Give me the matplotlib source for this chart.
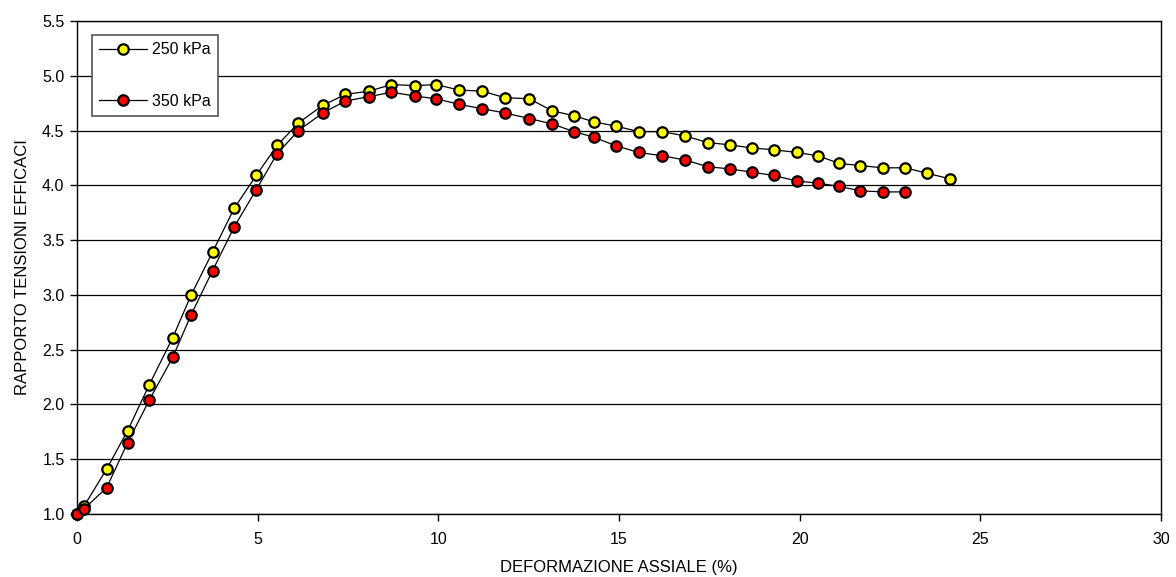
import matplotlib
matplotlib.use("Agg")
import matplotlib.pyplot as plt

plt.rcParams['font.family'] = ['Liberation Sans', 'DejaVu Sans']

x250 = [0, 0.19, 0.82, 1.40, 2.00, 2.65, 3.16, 3.75, 4.35, 4.96, 5.54, 6.13, 6.80, 7.43,
        8.09, 8.70, 9.35, 9.94, 10.57, 11.20, 11.85, 12.52, 13.15, 13.76, 14.30, 14.92,
        15.55, 16.20, 16.84, 17.46, 18.06, 18.69, 19.28, 19.92, 20.50, 21.10, 21.68,
        22.30, 22.92, 23.53, 24.15]
y250 = [1.0, 1.07, 1.41, 1.76, 2.18, 2.61, 3.00, 3.39, 3.79, 4.09, 4.365, 4.57, 4.73, 4.83,
        4.86, 4.92, 4.91, 4.92, 4.87, 4.86, 4.80, 4.79, 4.68, 4.635, 4.58, 4.54,
        4.49, 4.49, 4.45, 4.39, 4.37, 4.34, 4.325, 4.30, 4.27, 4.20, 4.18,
        4.16, 4.16, 4.11, 4.06]
x350 = [0, 0.19, 0.82, 1.40, 2.00, 2.65, 3.16, 3.75, 4.35, 4.96, 5.54, 6.13, 6.80, 7.43,
        8.09, 8.70, 9.35, 9.94, 10.57, 11.20, 11.85, 12.52, 13.15, 13.76, 14.30, 14.92,
        15.55, 16.20, 16.84, 17.46, 18.06, 18.69, 19.28, 19.92, 20.50, 21.10, 21.68,
        22.30, 22.92]
y350 = [1.0, 1.045, 1.24, 1.65, 2.04, 2.43, 2.82, 3.22, 3.62, 3.96, 4.29, 4.50, 4.66, 4.77,
        4.81, 4.85, 4.815, 4.79, 4.74, 4.70, 4.66, 4.61, 4.56, 4.49, 4.44, 4.36,
        4.30, 4.27, 4.23, 4.17, 4.15, 4.12, 4.09, 4.04, 4.02, 3.99, 3.95,
        3.94, 3.94]
labels = ["250 kPa", "350 kPa"]
colors = ["#FFFF00", "#FF0000"]
xticks = [0, 5, 10, 15, 20, 25, 30]
yticks = [1.0, 1.5, 2.0, 2.5, 3.0, 3.5, 4.0, 4.5, 5.0, 5.5]

fig = plt.figure(figsize=(11.76, 5.77), dpi=100)
ax = fig.add_axes([77/1176, 1-514/577, (1161-77)/1176, (514-21)/577])

for xs, ys, lab, col in [(x250, y250, labels[0], colors[0]), (x350, y350, labels[1], colors[1])]:
    ax.plot(xs, ys, color='black', lw=0.9, marker='o', markersize=7.5,
            markerfacecolor=col, markeredgecolor='black', markeredgewidth=1.6,
            label=lab, clip_on=False, zorder=3)

ax.set_xlim(0, 30)
ax.set_ylim(1.0, 5.5)
ax.set_xticks(xticks)
ax.set_xticklabels([str(t) for t in xticks])
ax.set_yticks(yticks)
ax.set_yticklabels([f"{t:.1f}" for t in yticks])
ax.yaxis.grid(True, color='black', lw=0.9)
ax.set_axisbelow(True)
for s in ax.spines.values():
    s.set_color('black')
    s.set_linewidth(1.0)
ax.tick_params(axis='both', direction='out', length=5, width=1, labelsize=11.5, colors='black')
ax.tick_params(axis='x', pad=8)
ax.tick_params(axis='y', pad=4)
ax.set_xlabel("DEFORMAZIONE ASSIALE (%)", fontsize=12, labelpad=9)
ax.set_ylabel("RAPPORTO TENSIONI EFFICACI", fontsize=12, labelpad=9)

leg = ax.legend(loc='upper left', bbox_to_anchor=((92-77)/1084, (514-35)/493),
                frameon=True, fancybox=False, edgecolor='#555555', framealpha=1,
                fontsize=11.5, labelspacing=2.3, handlelength=3.0, borderpad=0.45,
                handletextpad=0.3, borderaxespad=0)
leg.get_frame().set_linewidth(1.2)

fig.savefig("out.png", dpi=100)
